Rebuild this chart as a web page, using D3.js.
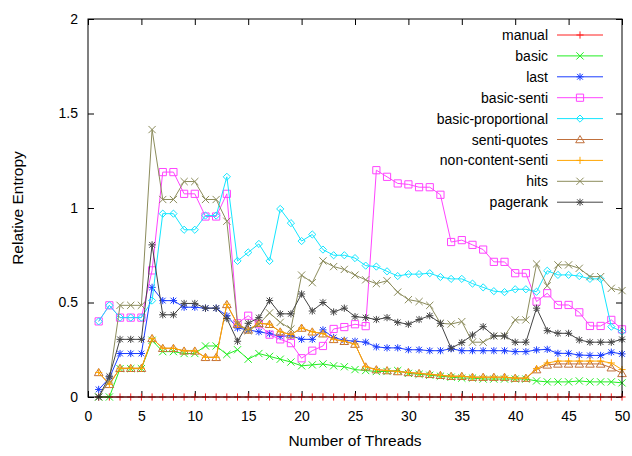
<!DOCTYPE html>
<html>
<head>
<meta charset="utf-8">
<script src="https://cdn.jsdelivr.net/npm/d3@7"></script>
<style>
  body { margin: 0; background: #fff; }
  svg { display: block; font-family: "Liberation Sans", Arial, Helvetica, sans-serif; }
  .tick text { font-size: 14px; fill: #000; }
</style>
</head>
<body>
<svg id="plt"></svg>
<script>
// x values (number of threads)
const threads = [1,2,3,4,5,6,7,8,9,10,11,12,13,14,15,16,17,18,19,20,21,22,23,24,25,
                 26,27,28,29,30,31,32,33,34,35,36,37,38,39,40,41,42,43,44,45,46,47,48,49,50];

const manual = [0,0,0,0,0,0,0,0,0,0,0,0,0,0,0,0,0,0,0,0,0,0,0,0,0,
                0,0,0,0,0,0,0,0,0,0,0,0,0,0,0,0,0,0,0,0,0,0,0,0,0];
const basic = [0,0,0.15,0.15,0.15,0.30,0.24,0.24,0.23,0.23,0.27,0.27,0.225,0.25,0.20,0.23,0.215,0.20,0.185,0.165,0.17,0.175,0.165,0.16,0.145,
               0.14,0.135,0.135,0.14,0.125,0.12,0.115,0.11,0.105,0.10,0.10,0.095,0.095,0.095,0.095,0.095,0.085,0.08,0.08,0.08,0.085,0.08,0.08,0.08,0.075];
const last = [0.04,0.10,0.23,0.23,0.23,0.58,0.51,0.51,0.475,0.475,0.47,0.47,0.43,0.365,0.355,0.345,0.335,0.32,0.325,0.305,0.305,0.355,0.315,0.30,0.295,
              0.29,0.265,0.26,0.26,0.25,0.25,0.245,0.245,0.255,0.245,0.245,0.245,0.245,0.245,0.24,0.24,0.249,0.252,0.231,0.231,0.222,0.22,0.22,0.237,0.228];
const basicSenti = [0.40,0.485,0.42,0.42,0.42,0.67,1.19,1.19,1.075,1.075,0.955,0.955,1.075,0.39,0.43,0.385,0.33,0.305,0.285,0.205,0.245,0.27,0.36,0.37,0.385,
                    0.375,1.20,1.165,1.13,1.125,1.11,1.11,1.07,0.82,0.83,0.805,0.78,0.715,0.715,0.655,0.655,0.505,0.549,0.487,0.487,0.448,0.376,0.376,0.408,0.358];
const basicProp = [0.40,0.485,0.42,0.42,0.42,0.51,0.97,0.97,0.885,0.885,0.96,0.96,1.165,0.72,0.765,0.81,0.72,0.995,0.92,0.825,0.86,0.78,0.75,0.75,0.735,
                   0.695,0.69,0.665,0.64,0.65,0.65,0.655,0.635,0.625,0.625,0.60,0.58,0.56,0.555,0.57,0.57,0.557,0.668,0.646,0.646,0.64,0.625,0.625,0.372,0.346];
const sentiQuotes = [0.13,0.067,0.152,0.152,0.152,0.31,0.258,0.258,0.244,0.244,0.21,0.21,0.49,0.385,0.355,0.39,0.385,0.345,0.33,0.365,0.345,0.335,0.305,0.295,0.28,
                     0.16,0.145,0.14,0.135,0.13,0.125,0.12,0.115,0.11,0.11,0.105,0.105,0.105,0.105,0.10,0.10,0.145,0.17,0.175,0.175,0.175,0.175,0.175,0.155,0.125];
const nonContentSenti = [0.13,0.067,0.152,0.152,0.152,0.31,0.258,0.258,0.244,0.244,0.21,0.21,0.49,0.385,0.355,0.39,0.385,0.345,0.33,0.365,0.345,0.335,0.305,0.295,0.28,
                         0.16,0.145,0.14,0.135,0.13,0.125,0.12,0.115,0.11,0.11,0.105,0.105,0.105,0.105,0.10,0.10,0.15,0.18,0.19,0.19,0.19,0.19,0.19,0.18,0.145];
const hits = [0,0.09,0.485,0.485,0.485,1.415,1.045,1.045,1.14,1.14,1.045,1.045,0.93,0.385,0.35,0.385,0.445,0.395,0.36,0.645,0.605,0.72,0.69,0.675,0.645,
              0.62,0.60,0.615,0.555,0.515,0.505,0.485,0.39,0.386,0.399,0.29,0.29,0.323,0.323,0.408,0.408,0.704,0.588,0.699,0.699,0.681,0.637,0.637,0.575,0.563];
const pagerank = [0,0.11,0.305,0.305,0.305,0.805,0.435,0.435,0.495,0.495,0.47,0.47,0.415,0.295,0.39,0.42,0.51,0.44,0.44,0.545,0.455,0.50,0.45,0.47,0.425,
                  0.42,0.41,0.42,0.395,0.385,0.41,0.43,0.39,0.258,0.288,0.328,0.372,0.323,0.323,0.29,0.29,0.47,0.351,0.337,0.337,0.302,0.29,0.29,0.29,0.305];

const xTicks = [0,5,10,15,20,25,30,35,40,45,50];
const yTicks = [0,0.5,1,1.5,2];

const series = [
    {name: "manual", values: manual, color: "#ff2020", marker: "plus"},
    {name: "basic", values: basic, color: "#22ee22", marker: "cross"},
    {name: "last", values: last, color: "#1a3cff", marker: "star"},
    {name: "basic-senti", values: basicSenti, color: "#ff44ff", marker: "square"},
    {name: "basic-proportional", values: basicProp, color: "#14e6ff", marker: "diamond"},
    {name: "senti-quotes", values: sentiQuotes, color: "#c0703c", marker: "triangle"},
    {name: "non-content-senti", values: nonContentSenti, color: "#ffa500", marker: "plus"},
    {name: "hits", values: hits, color: "#8c8c5c", marker: "cross"},
    {name: "pagerank", values: pagerank, color: "#444444", marker: "star"}
];

const W = 632, H = 456;
const margin = {left: 88, top: 19, right: 10, bottom: 59};

const svg = d3.select("#plt").attr("width", W).attr("height", H);

let x = d3.scaleLinear().domain([0, 50]).range([margin.left, W - margin.right]);
let y = d3.scaleLinear().domain([0, 2]).range([H - margin.bottom, margin.top]);

// marker shapes, centered at 0,0
const s = 3.6;
function markerPath(type) {
    if (type === "plus") return `M${-s},0H${s}M0,${-s}V${s}`;
    if (type === "cross") return `M${-s},${-s}L${s},${s}M${-s},${s}L${s},${-s}`;
    if (type === "star") return `M${-s},0H${s}M0,${-s}V${s}M${-s*0.8},${-s*0.8}L${s*0.8},${s*0.8}M${-s*0.8},${s*0.8}L${s*0.8},${-s*0.8}`;
    if (type === "square") return `M${-s},${-s}H${s}V${s}H${-s}Z`;
    if (type === "diamond") return `M0,${-s}L${s},0L0,${s}L${-s},0Z`;
    if (type === "triangle") return `M0,${-s*1.1}L${s*1.2},${s*0.9}L${-s*1.2},${s*0.9}Z`;
}

// axes (ticks inward, mirrored)
svg.append("g")
    .attr("transform", "translate(0," + y(0) + ")")
    .call(d3.axisBottom(x).tickValues(xTicks).tickSize(-6).tickPadding(14).tickFormat(d3.format("~g")))
    .call(g => g.select(".domain").remove());
svg.append("g")
    .attr("transform", "translate(0," + y(2) + ")")
    .call(d3.axisTop(x).tickValues(xTicks).tickSize(-6).tickFormat(""))
    .call(g => g.select(".domain").remove());
svg.append("g")
    .attr("transform", "translate(" + x(0) + ",0)")
    .call(d3.axisLeft(y).tickValues(yTicks).tickSize(-6).tickPadding(10).tickFormat(d3.format("~g")))
    .call(g => g.select(".domain").remove());
svg.append("g")
    .attr("transform", "translate(" + x(50) + ",0)")
    .call(d3.axisRight(y).tickValues(yTicks).tickSize(-6).tickFormat(""))
    .call(g => g.select(".domain").remove());

// axis titles
svg.append("text")
    .attr("x", (x(0) + x(50)) / 2)
    .attr("y", 446)
    .attr("text-anchor", "middle")
    .style("font-size", "15.5px")
    .text("Number of Threads");
svg.append("text")
    .attr("transform", "translate(23," + ((y(0) + y(2)) / 2) + ") rotate(-90)")
    .attr("text-anchor", "middle")
    .style("font-size", "15.5px")
    .text("Relative Entropy");

// series
const line = d3.line()
    .x((d, i) => x(threads[i]))
    .y(d => y(d));

series.forEach(function (ser, k) {
    const g = svg.append("g").attr("class", "series");
    g.append("path")
        .attr("d", line(ser.values))
        .attr("fill", "none")
        .attr("stroke", ser.color)
        .attr("stroke-width", 1);
    g.selectAll(".pt")
        .data(ser.values)
        .enter().append("path")
        .attr("class", "pt")
        .attr("transform", (d, i) => "translate(" + x(threads[i]) + "," + y(d) + ")")
        .attr("d", markerPath(ser.marker))
        .attr("fill", "none")
        .attr("stroke", ser.color)
        .attr("stroke-width", 1);

    // legend entry
    const ly = 35 + k * 20.9;
    const lg = svg.append("g").attr("class", "legend");
    lg.append("text")
        .attr("x", 548)
        .attr("y", ly)
        .attr("dy", "0.36em")
        .attr("text-anchor", "end")
        .style("font-size", "14px")
        .text(ser.name);
    lg.append("line")
        .attr("x1", 557).attr("x2", 603)
        .attr("y1", ly).attr("y2", ly)
        .attr("stroke", ser.color)
        .attr("stroke-width", 1);
    lg.append("path")
        .attr("transform", "translate(580," + ly + ")")
        .attr("d", markerPath(ser.marker))
        .attr("fill", "none")
        .attr("stroke", ser.color)
        .attr("stroke-width", 1);
});

// border
svg.append("rect")
    .attr("x", x(0)).attr("y", y(2))
    .attr("width", x(50) - x(0)).attr("height", y(0) - y(2))
    .attr("fill", "none")
    .attr("stroke", "#000")
    .attr("stroke-width", 1);
</script>
</body>
</html>
